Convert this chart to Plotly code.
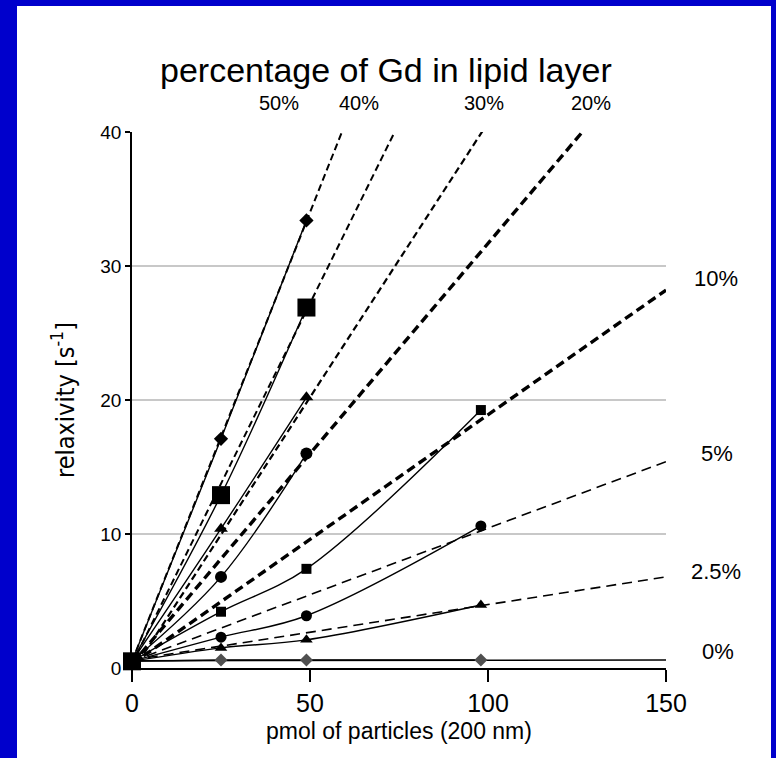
import plotly.graph_objects as go

W_FIG, H_FIG = 776, 758
L, R, T, B = 132, 110, 132, 90
PW, PH = W_FIG - L - R, H_FIG - T - B

def fx(px):
    return (px - L) / PW

def fy(py):
    return 1 - (py - T) / PH

# ---- data ----
pmol = [0, 25, 49, 98]
labels = ["50%", "40%", "30%", "20%", "10%", "5%", "2.5%", "0%"]

y50 = [0.5, 17.1, 33.4]
y40 = [0.5, 12.9, 26.9]
y30 = [0.5, 10.4, 20.2]
y20 = [0.5, 6.8, 16.0]
y10 = [0.5, 4.2, 7.4, 19.25]
y5 = [0.5, 2.3, 3.9, 10.6]
y25 = [0.5, 1.5, 2.1, 4.7]
y0 = [0.5, 0.6, 0.6, 0.6]

# fitted (dashed) lines: [start, end] points
fit50_x, fit50_y = [0, 60], [0.5, 40.7]
fit40_x, fit40_y = [0, 76], [0.3, 41.2]
fit30_x, fit30_y = [0, 100], [-0.3, 40.7]
fit20_x, fit20_y = [0, 130], [0.3, 41.1]
fit10_x, fit10_y = [0, 150], [0.3, 28.2]
fit5_x, fit5_y = [0, 150], [0.5, 15.4]
fit25_x, fit25_y = [0, 150], [0.6, 6.8]
fit0_x, fit0_y = [0, 152], [0.55, 0.6]

xticks = [0, 50, 100, 150]
yticks = [0, 10, 20, 30, 40]

fig = go.Figure()

def dashed(x, y, width, dash):
    fig.add_trace(go.Scatter(x=x, y=y, mode="lines", showlegend=False, hoverinfo="skip",
                             line=dict(color="black", width=width, dash=dash)))

dashed(fit50_x, fit50_y, 2, "7px,4px")
dashed(fit40_x, fit40_y, 2, "7px,4px")
dashed(fit30_x, fit30_y, 2.2, "7px,4px")
dashed(fit20_x, fit20_y, 3.4, "9px,5px")
dashed(fit10_x, fit10_y, 3.4, "9px,5px")
dashed(fit5_x, fit5_y, 1.6, "10px,6px")
dashed(fit25_x, fit25_y, 1.6, "10px,6px")
dashed(fit0_x, fit0_y, 1.5, "solid")

def series(x, y, sym, size, color="black"):
    fig.add_trace(go.Scatter(x=x, y=y, mode="lines+markers", showlegend=False,
                             cliponaxis=False,
                             line=dict(color="black", width=1.4, shape="spline", smoothing=1),
                             marker=dict(symbol=sym, size=size, color=color,
                                         line=dict(width=0))))

series(pmol[:3], y50, "diamond", 11)
series(pmol[:3], y30, "triangle-up", 12)
series(pmol[:3], y20, "circle", 12)
series(pmol, y10, "square", 10)
series(pmol, y5, "circle", 11)
series(pmol, y25, "triangle-up", 11)
series(pmol, y0, "diamond", 10, "#505050")
series(pmol[:3], y40, "square", 18)

fig.update_layout(
    width=W_FIG, height=H_FIG,
    margin=dict(l=L, r=R, t=T, b=B),
    paper_bgcolor="white", plot_bgcolor="white",
    font=dict(family="Liberation Sans, Arial, sans-serif", color="black"),
    xaxis=dict(range=[0, 150], tickvals=xticks, ticks="outside", ticklen=12, tickwidth=1.5,
               tickcolor="black", showline=True, linecolor="black", linewidth=1.5,
               showgrid=False, zeroline=False, tickfont=dict(size=25),
               title=dict(text="pmol of particles (200 nm)", font=dict(size=23), standoff=7)),
    yaxis=dict(range=[0, 40], tickvals=yticks, ticks="outside", ticklen=5, tickwidth=1.5,
               tickcolor="black", showline=True, linecolor="black", linewidth=1.5,
               showgrid=True, gridcolor="#c8c8c8", gridwidth=1.5, zeroline=False,
               tickfont=dict(size=19), title=None),
)

annots = [
    ("percentage of Gd in lipid layer", 386, 70, 34),
    ("50%", 279, 103, 20), ("40%", 359, 103, 20),
    ("30%", 484, 103, 20), ("20%", 591, 103, 20),
    ("10%", 716, 278, 22), ("5%", 717, 453, 22),
    ("2.5%", 716, 571, 22), ("0%", 718, 651, 22),
]
for txt, x, y, s in annots:
    fig.add_annotation(text=txt, xref="paper", yref="paper", x=fx(x), y=fy(y),
                       xanchor="center", yanchor="middle", showarrow=False,
                       font=dict(size=s, color="black"))

fig.add_annotation(text="relaxivity [s<sup>-1</sup>]", xref="paper", yref="paper",
                   x=fx(63), y=fy(400), textangle=-90, showarrow=False,
                   xanchor="center", yanchor="middle",
                   font=dict(size=25, family="Liberation Sans Narrow, DejaVu Sans Condensed, Liberation Sans",
                             color="black"))

blue = "#0000CC"
for x0, y0_, x1, y1 in [(0, 0, 17, H_FIG), (0, 0, W_FIG, 6), (771, 0, W_FIG, H_FIG)]:
    fig.add_shape(type="rect", xref="paper", yref="paper",
                  x0=fx(x0), x1=fx(x1), y0=fy(y1), y1=fy(y0_),
                  fillcolor=blue, line=dict(width=0), layer="above")

fig.write_html("out.html")
